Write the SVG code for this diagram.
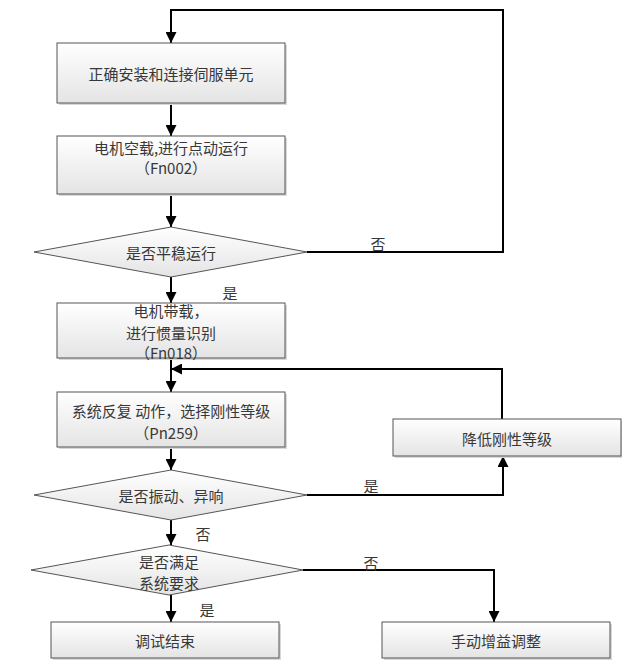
<svg xmlns="http://www.w3.org/2000/svg" width="622" height="672" viewBox="0 0 622 672">
<style>
text{font-family:"Noto Sans CJK SC","Liberation Sans",sans-serif;font-size:15px;fill:#383838;text-anchor:middle;dominant-baseline:central}
.box{fill:url(#g);stroke:#555;stroke-width:1}
.sh{fill:#d8d8d8}
.ln{fill:none;stroke:#000;stroke-width:2}
</style>
<defs>
<linearGradient id="g" x1="0" y1="0" x2="0" y2="1"><stop offset="0" stop-color="#ffffff"/><stop offset="1" stop-color="#e4e4e4"/></linearGradient>
<marker id="a" viewBox="0 0 10 10" refX="10" refY="5" markerWidth="5.5" markerHeight="5.5" orient="auto" markerUnits="strokeWidth"><path d="M0,0 L10,5 L0,10 z" fill="#000"/></marker>
</defs>
<g id="connectors">
<path class="ln" d="M307,252 H503 V10 H171 V43" marker-end="url(#a)"/>
<path class="ln" d="M171,103 V136" marker-end="url(#a)"/>
<path class="ln" d="M171,194 V227" marker-end="url(#a)"/>
<path class="ln" d="M171,277 V303" marker-end="url(#a)"/>
<path class="ln" d="M171,358 V392" marker-end="url(#a)"/>
<path class="ln" d="M502,419 V369 H171" marker-end="url(#a)"/>
<path class="ln" d="M171,447 V470" marker-end="url(#a)"/>
<path class="ln" d="M307,495 H503 V456" marker-end="url(#a)"/>
<path class="ln" d="M171,520 V545" marker-end="url(#a)"/>
<path class="ln" d="M303,570 H494 V622" marker-end="url(#a)"/>
<path class="ln" d="M171,595 V622" marker-end="url(#a)"/>
<text x="378" y="243">否</text>
<text x="230" y="292">是</text>
<text x="371" y="485">是</text>
<text x="203" y="533">否</text>
<text x="371" y="562">否</text>
<text x="207" y="609">是</text>
</g>
<g id="n1"><rect class="sh" x="59" y="45" width="228" height="60"/><rect class="box" x="57" y="43" width="228" height="60"/><text x="171" y="73">正确安装和连接伺服单元</text></g>
<g id="n2"><rect class="sh" x="59" y="138" width="228" height="58"/><rect class="box" x="57" y="136" width="228" height="58"/><text x="171" y="147">电机空载,进行点动运行</text><text x="171" y="167">（Fn002）</text></g>
<g id="d1"><polygon class="box" points="171,227 307,252 171,277 34,252"/><text x="171" y="252">是否平稳运行</text></g>
<g id="n3"><rect class="sh" x="59" y="305" width="228" height="55"/><rect class="box" x="57" y="303" width="228" height="55"/><text x="171" y="310">电机带载，</text><text x="171" y="332">进行惯量识别</text><text x="171" y="352">（Fn018）</text></g>
<g id="n4"><rect class="sh" x="59" y="394" width="228" height="55"/><rect class="box" x="57" y="392" width="228" height="55"/><text x="171" y="410">系统反复 动作，选择刚性等级</text><text x="171" y="432">（Pn259）</text></g>
<g id="n5"><rect class="sh" x="395" y="421" width="228" height="37"/><rect class="box" x="393" y="419" width="228" height="37"/><text x="507" y="438">降低刚性等级</text></g>
<g id="d2"><polygon class="box" points="171,470 307,495 171,520 34,495"/><text x="171" y="495">是否振动、异响</text></g>
<g id="d3"><polygon class="box" points="169,545 303,570 169,595 31,570"/><text x="169" y="561">是否满足</text><text x="169" y="582">系统要求</text></g>
<g id="n6"><rect class="sh" x="53" y="624" width="228" height="36"/><rect class="box" x="51" y="622" width="228" height="36"/><text x="165" y="640">调试结束</text></g>
<g id="n7"><rect class="sh" x="384" y="624" width="228" height="36"/><rect class="box" x="382" y="622" width="228" height="36"/><text x="496" y="640">手动增益调整</text></g>
</svg>
